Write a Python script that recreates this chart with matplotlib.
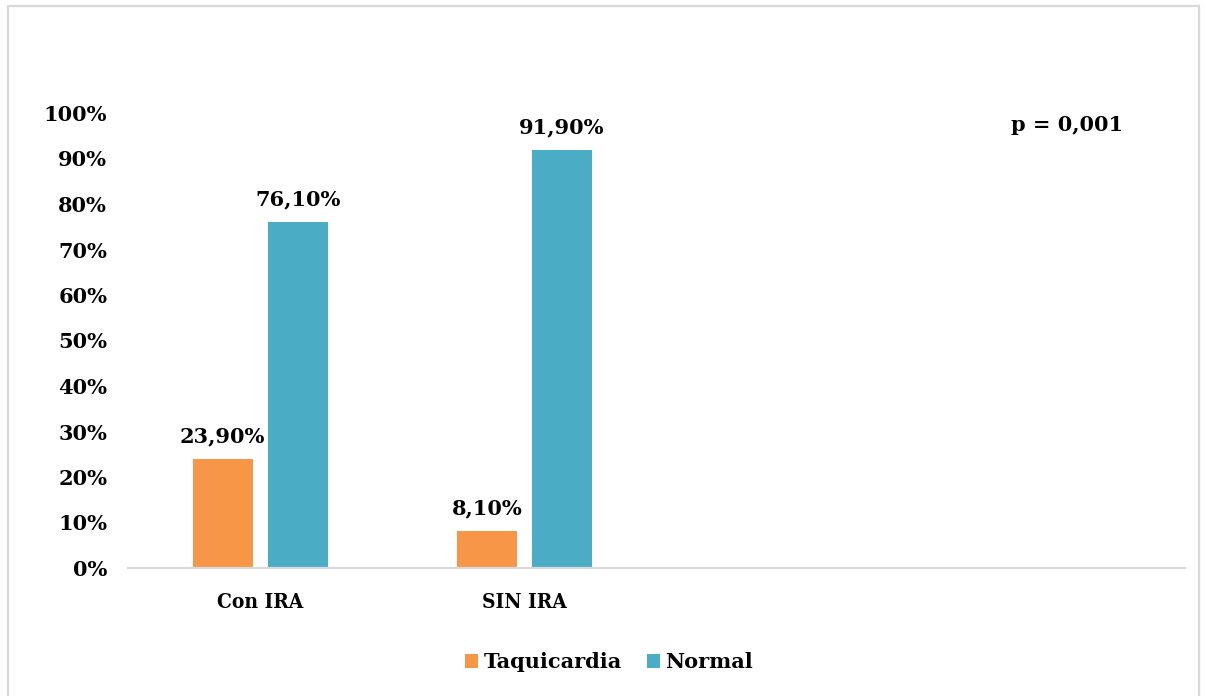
import matplotlib
matplotlib.use("Agg")
import matplotlib.pyplot as plt
from matplotlib.patches import Rectangle, Patch
import numpy as np

categories = ["Con IRA", "SIN IRA", "", ""]
taquicardia = [23.9, 8.1, None, None]
normal = [76.1, 91.9, None, None]
tick_values = [0, 10, 20, 30, 40, 50, 60, 70, 80, 90, 100]
series_names = ["Taquicardia", "Normal"]
colors = ["#F79646", "#4BACC6"]
p_text = "p = 0,001"

FONT = "DejaVu Serif"

fig = plt.figure(figsize=(12.06, 6.96), dpi=100)
fig.patch.set_facecolor("white")
fig.add_artist(Rectangle((8 / 1206, -0.01), (1199 - 8) / 1206, 1 - 6 / 696 + 0.01,
                         transform=fig.transFigure, fill=False,
                         edgecolor="#D9D9D9", linewidth=1.6))

ax = fig.add_axes([128 / 1206, (696 - 568) / 696, 1057 / 1206, 455 / 696])

x = np.arange(len(categories))
w = 0.227
off = 0.142
for vals, name, col, sgn in [(taquicardia, series_names[0], colors[0], -1),
                              (normal, series_names[1], colors[1], 1)]:
    xs = [xi + sgn * off for xi, v in zip(x, vals) if v is not None]
    vs = [v for v in vals if v is not None]
    bars = ax.bar(xs, vs, width=w, color=col, label=name, zorder=2)
    for b, v in zip(bars, vs):
        ax.annotate(f"{v:.2f}".replace(".", ",") + "%",
                    (b.get_x() + b.get_width() / 2, v),
                    xytext=(0, 9), textcoords="offset points",
                    ha="center", va="bottom", fontsize=15,
                    fontweight="bold", family=FONT)

ax.set_xlim(-0.5, len(categories) - 0.5)
ax.set_ylim(0, 100)
ax.set_yticks(tick_values)
ax.set_yticklabels([f"{t}%" for t in tick_values])
ax.set_xticks(x)
ax.set_xticklabels(categories)
for lab in ax.get_yticklabels():
    lab.set_fontsize(15)
    lab.set_fontweight("bold")
    lab.set_family(FONT)
for lab in ax.get_xticklabels():
    lab.set_fontsize(15)
    lab.set_fontweight("bold")
    lab.set_family(FONT)
    lab.set_fontstretch("condensed")
ax.tick_params(axis="y", length=0, pad=15)
ax.tick_params(axis="x", length=0, pad=17)
for s in ["top", "right", "left"]:
    ax.spines[s].set_visible(False)
ax.spines["bottom"].set_color("#D9D9D9")
ax.spines["bottom"].set_linewidth(1.6)

fig.text(1067 / 1206, 1 - 125 / 696, p_text, ha="center", va="center",
         fontsize=15, fontweight="bold", family=FONT)

handles = [Patch(facecolor=c, label=n) for c, n in zip(colors, series_names)]
fig.legend(handles=handles, loc="center", bbox_to_anchor=(609 / 1206, 1 - 662 / 696),
           ncol=2, frameon=False, handlelength=0.65, handleheight=0.65,
           handletextpad=0.25, columnspacing=1.2,
           prop={"family": FONT, "weight": "bold", "size": 15})

fig.savefig("out.png", dpi=100, facecolor="white")
